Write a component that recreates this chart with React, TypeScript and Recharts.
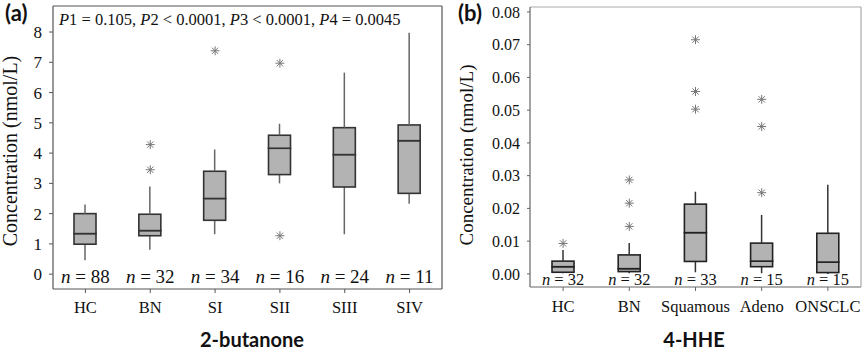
import React from 'react';
import { ComposedChart, Bar, Line, XAxis, YAxis } from 'recharts';

// panel (a): 2-butanone
const catsA = ['HC', 'BN', 'SI', 'SII', 'SIII', 'SIV'];
const nA = [88, 32, 34, 16, 24, 11];
const minA = [0.46, 0.81, 1.32, 3.0, 1.32, 2.33];
const q1A = [0.99, 1.27, 1.78, 3.29, 2.88, 2.67];
const medA = [1.34, 1.44, 2.5, 4.16, 3.95, 4.41];
const q3A = [2.0, 1.98, 3.4, 4.59, 4.84, 4.93];
const maxA = [2.3, 2.9, 4.12, 4.97, 6.66, 7.98];
const outA1 = [null, 4.28, 7.38, 6.97, null, null];
const outA2 = [null, 3.45, null, 1.27, null, null];
const ticksA = [0, 1, 2, 3, 4, 5, 6, 7, 8];

// panel (b): 4-HHE
const catsB = ['HC', 'BN', 'Squamous', 'Adeno', 'ONSCLC'];
const nB = [32, 32, 33, 15, 15];
const minB = [0.0002, 0.0002, 0.0005, 0.0002, 0.0];
const q1B = [0.0005, 0.0007, 0.0038, 0.0022, 0.0004];
const medB = [0.0022, 0.0016, 0.0126, 0.0039, 0.0036];
const q3B = [0.0039, 0.0058, 0.0213, 0.0094, 0.0124];
const maxB = [0.0073, 0.0094, 0.0251, 0.018, 0.0272];
const outB1 = [0.0093, 0.0287, 0.0715, 0.0533, null];
const outB2 = [null, 0.0216, 0.0557, 0.045, null];
const outB3 = [null, 0.0145, 0.0503, 0.0248, null];
const ticksB = [0, 0.01, 0.02, 0.03, 0.04, 0.05, 0.06, 0.07, 0.08];

const SERIF = '"Liberation Serif", "Times New Roman", serif';
const SANS = 'Lato, "Open Sans", sans-serif';

function buildRows(cats: string[], mn: number[], q1: number[], md: number[], q3: number[], mx: number[], outs: (number | null)[][]) {
  return cats.map((cat, i) => {
    const row: any = {
      cat,
      base: mn[i],
      lw: q1[i] - mn[i],
      lb: md[i] - q1[i],
      ub: q3[i] - md[i],
      uw: mx[i] - q3[i],
    };
    outs.forEach((o, k) => { row['o' + (k + 1)] = o[i]; });
    return row;
  });
}

const rowsA = buildRows(catsA, minA, q1A, medA, q3A, maxA, [outA1, outA2]);
const rowsB = buildRows(catsB, minB, q1B, medB, q3B, maxB, [outB1, outB2, outB3]);

const whisker = (color: string, w: number) => (p: any) => {
  const cx = p.x + p.width / 2;
  return <line x1={cx} x2={cx} y1={p.y} y2={p.y + p.height} stroke={color} strokeWidth={w} />;
};

const boxHalf = (stroke: string, w: number) => (p: any) => (
  <rect x={p.x} y={p.y} width={p.width} height={Math.max(p.height, 0)} fill="#b3b3b3" stroke={stroke} strokeWidth={w} />
);

const star = (p: any) => {
  if (p.cy == null || p.value == null || isNaN(p.cy)) return <g key={p.key} />;
  const r = 4.5;
  const d = r * 0.7;
  return (
    <g key={p.key} stroke="#777" strokeWidth={1}>
      <line x1={p.cx - r} x2={p.cx + r} y1={p.cy} y2={p.cy} />
      <line x1={p.cx} x2={p.cx} y1={p.cy - r} y2={p.cy + r} />
      <line x1={p.cx - d} x2={p.cx + d} y1={p.cy - d} y2={p.cy + d} />
      <line x1={p.cx - d} x2={p.cx + d} y1={p.cy + d} y2={p.cy - d} />
    </g>
  );
};

const catTick = (cats: string[], ns: number[], nSize: number, nDy: number, catSize: number, catDy: number) => (p: any) => {
  const i = cats.indexOf(p.payload.value);
  const axisY = p.y - 6;
  return (
    <g>
      <text x={p.x} y={axisY + nDy} textAnchor="middle" fontFamily={SERIF} fontSize={nSize} fill="#111">
        <tspan fontStyle="italic">n</tspan> = {ns[i]}
      </text>
      <text x={p.x} y={axisY + catDy} textAnchor="middle" fontFamily={SERIF} fontSize={catSize} fill="#111">
        {p.payload.value}
      </text>
    </g>
  );
};

function BoxChart(props: {
  rows: any[]; cats: string[]; ns: number[]; width: number; yWidth: number; right: number; top: number; xHeight: number;
  domain: [number, number]; ticks: number[]; fmt: (v: number) => string; tickSize: number; tickFont: number;
  nSize: number; nDy: number; catSize: number; catDy: number; outKeys: string[];
  axisColor: string; frameColor: string; whiskerColor: string; boxStroke: string;
}) {
  const p = props;
  return (
    <ComposedChart width={p.width} height={353} data={p.rows} barSize={22}
      margin={{ top: p.top - 1, right: p.right - 1, bottom: 0, left: 0 }}>
      <XAxis dataKey="cat" type="category" height={p.xHeight} interval={0} tickSize={4} tickMargin={2}
        stroke={p.axisColor} axisLine={{ stroke: p.axisColor, strokeWidth: 1.2 }}
        tick={catTick(p.cats, p.ns, p.nSize, p.nDy, p.catSize, p.catDy)} />
      <XAxis xAxisId="top" dataKey="cat" orientation="top" height={1} tick={false} tickLine={false}
        stroke={p.frameColor} axisLine={{ stroke: p.frameColor, strokeWidth: 1.2 }} />
      <YAxis type="number" domain={p.domain} ticks={p.ticks} width={p.yWidth} tickSize={p.tickSize} tickMargin={7}
        interval={0} tickFormatter={p.fmt} stroke={p.axisColor} axisLine={{ stroke: p.axisColor, strokeWidth: 1.2 }}
        tick={{ fontFamily: SERIF, fontSize: p.tickFont, fill: '#111' }} />
      <YAxis yAxisId="right" orientation="right" type="number" domain={[0, 1]} width={1} tick={false} tickLine={false}
        stroke={p.frameColor} axisLine={{ stroke: p.frameColor, strokeWidth: 1.2 }} />
      <Bar dataKey="base" stackId="box" fill="transparent" isAnimationActive={false} />
      <Bar dataKey="lw" stackId="box" shape={whisker(p.whiskerColor, 1.5)} isAnimationActive={false} />
      <Bar dataKey="lb" stackId="box" shape={boxHalf(p.boxStroke, 1.6)} isAnimationActive={false} />
      <Bar dataKey="ub" stackId="box" shape={boxHalf(p.boxStroke, 1.6)} isAnimationActive={false} />
      <Bar dataKey="uw" stackId="box" shape={whisker(p.whiskerColor, 1.5)} isAnimationActive={false} />
      {p.outKeys.map((k) => (
        <Line key={k} dataKey={k} stroke="none" strokeWidth={0} dot={star} activeDot={false}
          connectNulls={false} isAnimationActive={false} />
      ))}
    </ComposedChart>
  );
}

export default function App() {
  return (
    <div style={{ position: 'absolute', left: 0, top: 0, width: 864, height: 353, background: '#fff' }}>
      <div style={{ position: 'absolute', left: 0, top: 0 }}>
        <BoxChart rows={rowsA} cats={catsA} ns={nA} width={450} yWidth={53} right={8} top={6} xHeight={64}
          domain={[-0.49, 8.86]} ticks={ticksA} fmt={(v) => String(v)} tickSize={4} tickFont={17}
          nSize={19} nDy={-6} catSize={16.5} catDy={24} outKeys={['o1', 'o2']}
          axisColor="#555" frameColor="#555" whiskerColor="#666" boxStroke="#333" />
      </div>
      <div style={{ position: 'absolute', left: 450, top: 0 }}>
        <BoxChart rows={rowsB} cats={catsB} ns={nB} width={414} yWidth={80} right={3} top={7} xHeight={66}
          domain={[-0.004, 0.0815]} ticks={ticksB} fmt={(v) => v.toFixed(2)} tickSize={3} tickFont={16}
          nSize={16.5} nDy={-2} catSize={16.5} catDy={25} outKeys={['o1', 'o2', 'o3']}
          axisColor="#666" frameColor="#aaa" whiskerColor="#333" boxStroke="#222" />
      </div>
      <svg width={864} height={353} style={{ position: 'absolute', left: 0, top: 0, pointerEvents: 'none' }}>
        <text x={5} y={21} fontFamily={SANS} fontWeight="bold" fontSize={22} fill="#111">(a)</text>
        <text x={458} y={21} fontFamily={SANS} fontWeight="bold" fontSize={22} fill="#111">(b)</text>
        <text x={59} y={25} fontFamily={SERIF} fontSize={16.5} fill="#111">
          <tspan fontStyle="italic">P</tspan>1 = 0.105, <tspan fontStyle="italic">P</tspan>2 &lt; 0.0001,{' '}
          <tspan fontStyle="italic">P</tspan>3 &lt; 0.0001, <tspan fontStyle="italic">P</tspan>4 = 0.0045
        </text>
        <text transform="translate(17,151) rotate(-90)" textAnchor="middle" fontFamily={SERIF} fontSize={20} fill="#111">
          Concentration (nmol/L)
        </text>
        <text transform="translate(473,155) rotate(-90)" textAnchor="middle" fontFamily={SERIF} fontSize={19} fill="#111">
          Concentration (nmol/L)
        </text>
        <text x={252} y={347} textAnchor="middle" fontFamily={SANS} fontWeight="bold" fontSize={20} fill="#111">2-butanone</text>
        <text x={694} y={347} textAnchor="middle" fontFamily={SANS} fontWeight="bold" fontSize={20} fill="#111">4-HHE</text>
      </svg>
    </div>
  );
}
